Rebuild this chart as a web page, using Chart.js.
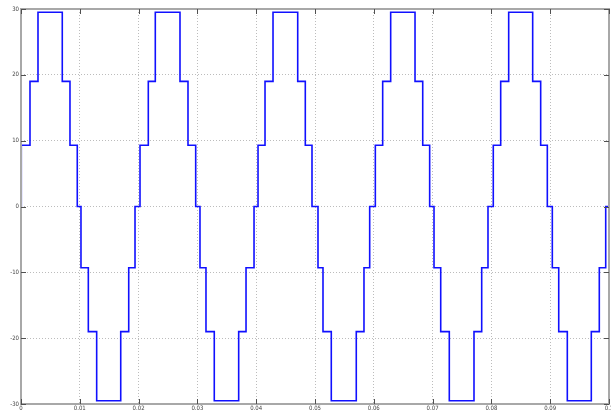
<!DOCTYPE html>
<html><head><meta charset="utf-8">
<script src="https://cdn.jsdelivr.net/npm/chart.js@4"></script>
<style>html,body{margin:0;padding:0;background:#fff;overflow:hidden}#wrap{width:611px;height:413px;position:relative}</style>
</head><body><div id="wrap"><canvas id="c" width="611" height="413"></canvas></div>
<script>
// switching instants (s) and the output level (V) reached at each instant
const switchTimes = [0, 0.00005, 0.00153, 0.00289, 0.00702, 0.00833, 0.00957, 0.01020, 0.01145, 0.01287, 0.01696, 0.01832, 0.01939,
  0.02024, 0.02165, 0.02284, 0.02704, 0.02840, 0.02971, 0.03044, 0.03146, 0.03287, 0.03702, 0.03827, 0.03963,
  0.04031, 0.04150, 0.04286, 0.04706, 0.04835, 0.04949, 0.05051, 0.05136, 0.05277, 0.05702, 0.05833, 0.05930,
  0.06026, 0.06151, 0.06287, 0.06701, 0.06832, 0.06950, 0.07024, 0.07138, 0.07284, 0.07704, 0.07835, 0.07942,
  0.08032, 0.08158, 0.08294, 0.08702, 0.08838, 0.08951, 0.09036, 0.09145, 0.09291, 0.09699, 0.09835, 0.09944, 0.1];
const switchLevels = [0, 9.3, 19, 29.5, 19, 9.3, 0, -9.3, -19, -29.5, -19, -9.3, 0,
  9.3, 19, 29.5, 19, 9.3, 0, -9.3, -19, -29.5, -19, -9.3, 0,
  9.3, 19, 29.5, 19, 9.3, 0, -9.3, -19, -29.5, -19, -9.3, 0,
  9.3, 19, 29.5, 19, 9.3, 0, -9.3, -19, -29.5, -19, -9.3, 0,
  9.3, 19, 29.5, 19, 9.3, 0, -9.3, -19, -29.5, -19, -9.3, 0, 0];
const xTicks = [0, 0.01, 0.02, 0.03, 0.04, 0.05, 0.06, 0.07, 0.08, 0.09, 0.1];
const xTickLabels = ['0', '0.01', '0.02', '0.03', '0.04', '0.05', '0.06', '0.07', '0.08', '0.09', '0.1'];
const yTicks = [-30, -20, -10, 0, 10, 20, 30];
const yTickLabels = ['-30', '-20', '-10', '0', '10', '20', '30'];

const points = switchTimes.map((t, i) => ({x: t, y: switchLevels[i]}));

const frame = {
  id: 'frame',
  afterDraw(chart) {
    const {ctx, chartArea: a, scales} = chart;
    ctx.save();
    ctx.strokeStyle = '#a8a8a8';
    ctx.lineWidth = 2;
    ctx.strokeRect(a.left, a.top, a.right - a.left, a.bottom - a.top);
    ctx.strokeStyle = '#505050';
    ctx.lineWidth = 1;
    ctx.beginPath();
    xTicks.forEach(v => {
      const x = Math.round(scales.x.getPixelForValue(v)) + 0.5;
      ctx.moveTo(x, a.bottom); ctx.lineTo(x, a.bottom - 5);
      ctx.moveTo(x, a.top); ctx.lineTo(x, a.top + 5);
    });
    yTicks.forEach(v => {
      const y = Math.round(scales.y.getPixelForValue(v)) + 0.5;
      ctx.moveTo(a.left, y); ctx.lineTo(a.left + 5, y);
      ctx.moveTo(a.right, y); ctx.lineTo(a.right - 5, y);
    });
    ctx.stroke();
    ctx.restore();
  }
};

new Chart(document.getElementById('c'), {
  type: 'line',
  data: { datasets: [{ data: points, borderColor: '#1010ff', borderWidth: 1.6, pointRadius: 0, stepped: 'before', fill: false, tension: 0 }] },
  options: {
    responsive: false, animation: false,
    layout: { padding: { top: 9, right: 2, left: 0, bottom: 0 } },
    plugins: { legend: { display: false }, tooltip: { enabled: false } },
    scales: {
      x: {
        type: 'linear', min: 0, max: 0.1,
        afterBuildTicks: s => { s.ticks = xTicks.map(v => ({value: v})); },
        afterFit: s => { s.height = 9; s.paddingLeft = 0; s.paddingRight = 0; },
        ticks: { autoSkip: false, maxRotation: 0, padding: 1, color: '#444', font: { family: 'DejaVu Sans Condensed', size: 6 },
          callback: (v, i) => xTickLabels[i] },
        grid: { color: '#bcbcbc', lineWidth: 1, drawTicks: false },
        border: { display: false, dash: [1, 2] }
      },
      y: {
        min: -30, max: 30,
        afterBuildTicks: s => { s.ticks = yTicks.map(v => ({value: v})); },
        afterFit: s => { s.width = 21; },
        ticks: { padding: 2, color: '#444', font: { family: 'DejaVu Sans Condensed', size: 6 },
          callback: (v, i) => yTickLabels[i] },
        grid: { color: '#bcbcbc', lineWidth: 1, drawTicks: false },
        border: { display: false, dash: [1, 2] }
      }
    }
  },
  plugins: [frame]
});
</script></body></html>
